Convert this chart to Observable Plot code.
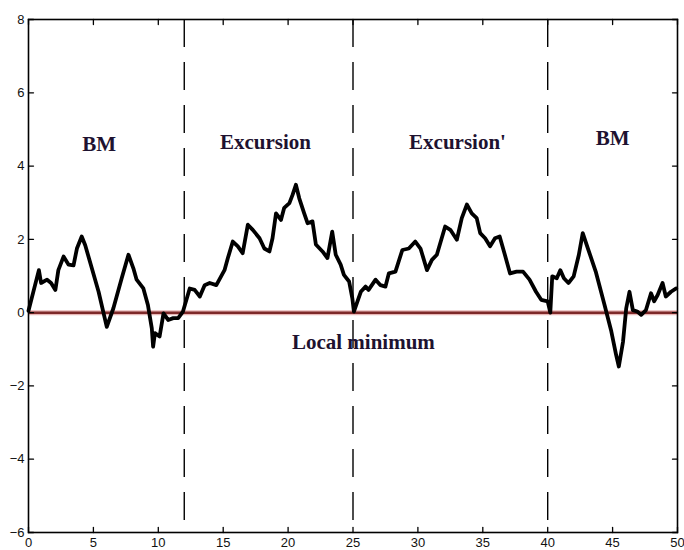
<!DOCTYPE html>
<html>
<head>
<meta charset="utf-8">
<script src="https://cdn.jsdelivr.net/npm/d3@7"></script>
<script src="https://cdn.jsdelivr.net/npm/@observablehq/plot@0.6"></script>
<style>
  html, body { margin: 0; padding: 0; background: #fff; }
  #chart svg { display: block; }
</style>
</head>
<body>
<div id="chart"></div>
<script>
const xs = [0, 0.8, 0.97, 1.43, 1.74, 2.07, 2.3, 2.7, 3.09, 3.47, 3.73, 4.1, 4.37, 4.88, 5.4, 6.03, 6.54, 7.18, 7.7, 8.08, 8.33, 8.85, 9.2, 9.5, 9.6, 9.74, 10.1, 10.4, 10.76, 11.15, 11.53, 11.9,
  12.42, 12.8, 13.2, 13.57, 13.96, 14.47, 15.1, 15.36, 15.74, 16.13, 16.5, 16.9, 17.28, 17.8, 18.17, 18.56, 18.8, 19.07, 19.45, 19.7, 20.1, 20.35, 20.6, 20.86, 21.24, 21.5, 21.88, 22.14, 22.65, 23.03, 23.4, 23.67, 24.05, 24.3, 24.7, 24.95, 25.07,
  25.6, 25.97, 26.2, 26.74, 27.12, 27.5, 27.76, 28.27, 28.8, 29.3, 29.8, 30.2, 30.7, 31.08, 31.46, 32.1, 32.5, 33.0, 33.38, 33.77, 34.15, 34.53, 34.8, 35.18, 35.56, 35.94, 36.3, 36.7, 37.1, 37.6, 38.1, 38.6, 39.1, 39.5, 40.0, 40.2,
  40.35, 40.7, 40.97, 41.25, 41.6, 42.0, 42.4, 42.7, 43.1, 43.7, 44.38, 44.9, 45.27, 45.48, 45.8, 46.05, 46.3, 46.56, 46.9, 47.2, 47.57, 47.96, 48.2, 48.47, 48.85, 49.1, 49.5, 49.9];
const ys = [0.05, 1.16, 0.81, 0.9, 0.81, 0.62, 1.16, 1.53, 1.31, 1.29, 1.75, 2.08, 1.84, 1.21, 0.57, -0.39, 0.12, 0.94, 1.58, 1.21, 0.9, 0.66, 0.21, -0.43, -0.93, -0.56, -0.65, -0.02, -0.2, -0.15, -0.15, 0.03,
  0.66, 0.62, 0.44, 0.75, 0.81, 0.75, 1.16, 1.49, 1.94, 1.81, 1.62, 2.4, 2.26, 2.03, 1.75, 1.67, 2.03, 2.71, 2.53, 2.86, 2.99, 3.22, 3.49, 3.12, 2.71, 2.44, 2.49, 1.86, 1.67, 1.49, 2.21, 1.58, 1.31, 1.03, 0.85, 0.39, 0.03,
  0.57, 0.71, 0.62, 0.9, 0.75, 0.71, 1.07, 1.12, 1.71, 1.75, 1.94, 1.75, 1.16, 1.44, 1.58, 2.35, 2.26, 1.99, 2.58, 2.95, 2.71, 2.58, 2.17, 2.03, 1.81, 2.03, 2.08, 1.58, 1.07, 1.12, 1.12, 0.9, 0.57, 0.35, 0.31, 0.0,
  0.99, 0.94, 1.16, 0.94, 0.81, 0.99, 1.58, 2.17, 1.75, 1.12, 0.21, -0.51, -1.15, -1.47, -0.8, 0.12, 0.57, 0.07, 0.03, -0.06, 0.07, 0.53, 0.31, 0.48, 0.81, 0.44, 0.57, 0.66];

const boundaries = [12, 25, 40];
const xTicks = [0, 5, 10, 15, 20, 25, 30, 35, 40, 45, 50];
const yTicks = [-6, -4, -2, 0, 2, 4, 6, 8];
const labelText = ["BM", "Excursion", "Excursion'", "BM", "Local minimum"];
const labelX = [5.45, 18.25, 33.05, 45.0, 25.8];
const labelY = [4.6, 4.65, 4.65, 4.75, -0.8];

const path = xs.map((x, i) => ({x, y: ys[i]}));
const labels = labelText.map((t, i) => ({t, x: labelX[i], y: labelY[i]}));

const tickShape = {draw(ctx, l) { ctx.moveTo(0, 0); ctx.lineTo(0, -l); }};
const tickOpts = {length: 5, shape: tickShape, anchor: "start", stroke: "black", strokeWidth: 1.3};

const chart = Plot.plot({
  width: 684,
  height: 550,
  marginLeft: 28,
  marginRight: 7,
  marginTop: 19,
  marginBottom: 18,
  style: {background: "#fff", fontFamily: "'Liberation Sans', Arial, sans-serif"},
  x: {domain: [0, 50], label: null},
  y: {domain: [-6, 8], label: null},
  marks: [
    Plot.ruleY([0], {stroke: "#e8b8b8", strokeWidth: 5}),
    Plot.ruleY([0], {stroke: "#7e2a2a", strokeWidth: 2.5}),
    Plot.ruleX(boundaries, {stroke: "black", strokeWidth: 1.4, strokeDasharray: "28,15"}),
    Plot.line(path, {x: "x", y: "y", stroke: "black", strokeWidth: 3.8, strokeLinejoin: "round", strokeLinecap: "round"}),
    Plot.text(labels, {x: "x", y: "y", text: "t", fontFamily: "'Liberation Serif', 'Times New Roman', serif", fontWeight: "bold", fontSize: 21, fill: "#1e1230"}),
    Plot.vector(xTicks, {x: d => d, y: -6, rotate: 0, ...tickOpts}),
    Plot.vector(xTicks, {x: d => d, y: 8, rotate: 180, ...tickOpts}),
    Plot.vector(yTicks, {x: 0, y: d => d, rotate: 90, ...tickOpts}),
    Plot.vector(yTicks, {x: 50, y: d => d, rotate: -90, ...tickOpts}),
    Plot.frame({stroke: "black", strokeWidth: 1.6}),
    Plot.axisX(xTicks, {anchor: "bottom", label: null, tickSize: 0, tickPadding: 5, fontSize: 13, fill: "#111"}),
    Plot.axisY(yTicks, {anchor: "left", label: null, tickSize: 0, tickPadding: 4, fontSize: 13, fill: "#111"})
  ]
});
document.getElementById("chart").append(chart);
</script>
</body>
</html>
